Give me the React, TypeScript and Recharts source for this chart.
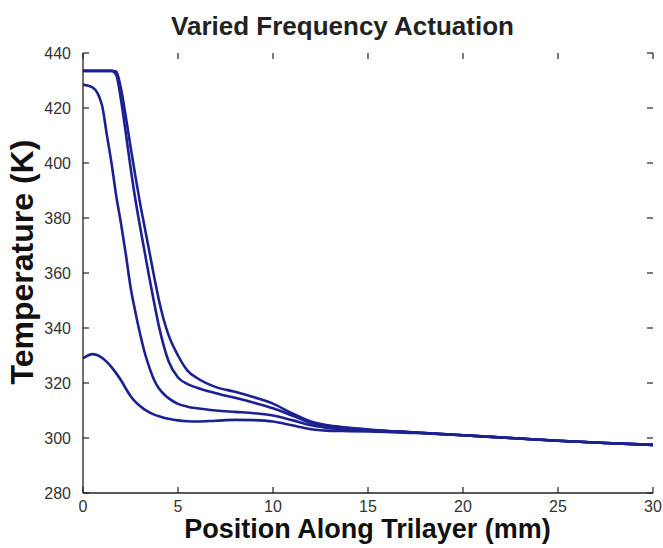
import React from "react";
import { LineChart, Line, XAxis, YAxis } from "recharts";

// position along the trilayer (mm), shared by all four runs
const POSITION_MM = [
  0, 0.5, 1, 1.25, 1.5, 1.75, 2, 2.25, 2.5, 2.75, 3, 3.25, 3.5, 3.75, 4, 4.25,
  4.5, 5, 5.5, 6, 7, 8, 9, 10, 11, 12, 13, 14, 15, 17.5, 20, 22.5, 25, 27.5, 30,
];

// temperatures (K) per run
const TEMP_RUN_1 = [
  433.5, 433.5, 433.5, 433.5, 433.5, 433.3, 427, 417, 406, 395.5, 385.5, 376.5,
  367.5, 358.5, 350, 343, 337.5, 330, 324.5, 321.8, 318.5, 316.8, 314.8, 312.5,
  309, 306, 304.5, 303.7, 303.1, 302, 301, 300, 299, 298.2, 297.5,
];
const TEMP_RUN_2 = [
  433.5, 433.5, 433.5, 433.5, 433.5, 432, 423, 411, 398.5, 387, 377, 367.5, 358,
  349, 340.5, 333.5, 328, 322, 319.6, 318.3, 316.3, 314.6, 312.8, 310.8, 308.2,
  305.5, 304.3, 303.6, 303, 302, 301, 300, 299, 298.2, 297.5,
];
const TEMP_RUN_3 = [
  428.5, 427.5, 421, 410.5, 400, 388, 378, 367, 355, 346, 338, 331, 325.5, 321,
  318, 316, 314.5, 312.4, 311.4, 310.8, 310, 309.5, 309, 308.2, 306.5, 304.6,
  303.6, 303.2, 302.8, 302, 301, 300, 299, 298.2, 297.5,
];
const TEMP_RUN_4 = [
  329, 330.5, 329.2, 327.7, 325.8, 323.5, 321, 318, 315.3, 313.2, 311.6, 310.3,
  309.3, 308.5, 307.9, 307.4, 307, 306.4, 306.1, 306, 306.3, 306.6, 306.5, 306,
  304.6, 303.2, 302.6, 302.5, 302.4, 301.8, 301, 300, 299, 298.2, 297.5,
];

const X_TICKS = [0, 5, 10, 15, 20, 25, 30];
const Y_TICKS = [280, 300, 320, 340, 360, 380, 400, 420, 440];

const rows = POSITION_MM.map((x, i) => ({
  x,
  r1: TEMP_RUN_1[i],
  r2: TEMP_RUN_2[i],
  r3: TEMP_RUN_3[i],
  r4: TEMP_RUN_4[i],
}));

// plot box in page pixels
const W = 663;
const H = 548;
const PLOT_LEFT = 83;
const PLOT_TOP = 53;
const PLOT_RIGHT = 653;
const PLOT_BOTTOM = 493;
const TICK_LEN = 6;

const LINE_COLOR = "#1b2190";
const AXIS_COLOR = "#222";
const FONT = "'Liberation Sans', Arial, sans-serif";
const blank = () => "";

// matlab style: ticks point inward, mirrored on the opposite side
function BottomTick(props: any) {
  const { x, payload } = props;
  return (
    <g>
      <line x1={x} x2={x} y1={PLOT_BOTTOM} y2={PLOT_BOTTOM - TICK_LEN} stroke={AXIS_COLOR} strokeWidth={1.2} />
      <line x1={x} x2={x} y1={PLOT_TOP} y2={PLOT_TOP + TICK_LEN} stroke={AXIS_COLOR} strokeWidth={1.2} />
      <text x={x} y={PLOT_BOTTOM + 19} textAnchor="middle" fontSize={16} fill="#333" fontFamily={FONT}>
        {payload.value}
      </text>
    </g>
  );
}

function LeftTick(props: any) {
  const { y, payload } = props;
  return (
    <g>
      <line x1={PLOT_LEFT} x2={PLOT_LEFT + TICK_LEN} y1={y} y2={y} stroke={AXIS_COLOR} strokeWidth={1.2} />
      <line x1={PLOT_RIGHT} x2={PLOT_RIGHT - TICK_LEN} y1={y} y2={y} stroke={AXIS_COLOR} strokeWidth={1.2} />
      <text x={PLOT_LEFT - 12} y={y} dy="0.36em" textAnchor="end" fontSize={16} fill="#333" fontFamily={FONT}>
        {payload.value}
      </text>
    </g>
  );
}

export default function App() {
  return (
    <div
      style={{
        position: "absolute",
        left: 0,
        top: 0,
        width: W,
        height: H,
        background: "#fff",
        fontFamily: FONT,
      }}
    >
      <LineChart
        width={W}
        height={H}
        data={rows}
        margin={{ top: PLOT_TOP, right: W - PLOT_RIGHT, bottom: H - PLOT_BOTTOM - 30, left: PLOT_LEFT - 60 }}
      >
        <XAxis
          xAxisId="bottom"
          dataKey="x"
          type="number"
          domain={[0, 30]}
          ticks={X_TICKS}
          height={30}
          tickLine={false}
          stroke={AXIS_COLOR}
          strokeWidth={1.3}
          tick={<BottomTick />}
          allowDataOverflow
        />
        <XAxis
          xAxisId="top"
          orientation="top"
          type="number"
          domain={[0, 30]}
          ticks={X_TICKS}
          height={0}
          tickLine={false}
          tickFormatter={blank}
          stroke={AXIS_COLOR}
          strokeWidth={1.3}
          allowDataOverflow
        />
        <YAxis
          yAxisId="left"
          type="number"
          domain={[280, 440]}
          ticks={Y_TICKS}
          width={60}
          tickLine={false}
          stroke={AXIS_COLOR}
          strokeWidth={1.3}
          tick={<LeftTick />}
          allowDataOverflow
        />
        <YAxis
          yAxisId="right"
          orientation="right"
          type="number"
          domain={[280, 440]}
          ticks={Y_TICKS}
          width={0}
          tickLine={false}
          tickFormatter={blank}
          stroke={AXIS_COLOR}
          strokeWidth={1.3}
          allowDataOverflow
        />
        {["r1", "r2", "r3", "r4"].map((k) => (
          <Line
            key={k}
            xAxisId="bottom"
            yAxisId="left"
            type="monotone"
            dataKey={k}
            stroke={LINE_COLOR}
            strokeWidth={2.6}
            dot={false}
            activeDot={false}
            isAnimationActive={false}
          />
        ))}
      </LineChart>
      <div
        style={{
          position: "absolute",
          left: 0,
          width: 685,
          top: 11,
          textAlign: "center",
          fontSize: 26,
          fontWeight: "bold",
          color: "#222",
        }}
      >
        Varied Frequency Actuation
      </div>
      <div
        style={{
          position: "absolute",
          left: 0,
          width: 735,
          top: 516,
          textAlign: "center",
          fontSize: 27,
          lineHeight: "27px",
          fontWeight: "bold",
          color: "#111",
          whiteSpace: "nowrap",
        }}
      >
        Position Along Trilayer (mm)
      </div>
      <div
        style={{
          position: "absolute",
          left: 22,
          top: 262,
          transform: "translate(-50%, -50%) rotate(-90deg)",
          whiteSpace: "nowrap",
          fontSize: 32,
          fontWeight: "bold",
          color: "#111",
        }}
      >
        Temperature (K)
      </div>
    </div>
  );
}
